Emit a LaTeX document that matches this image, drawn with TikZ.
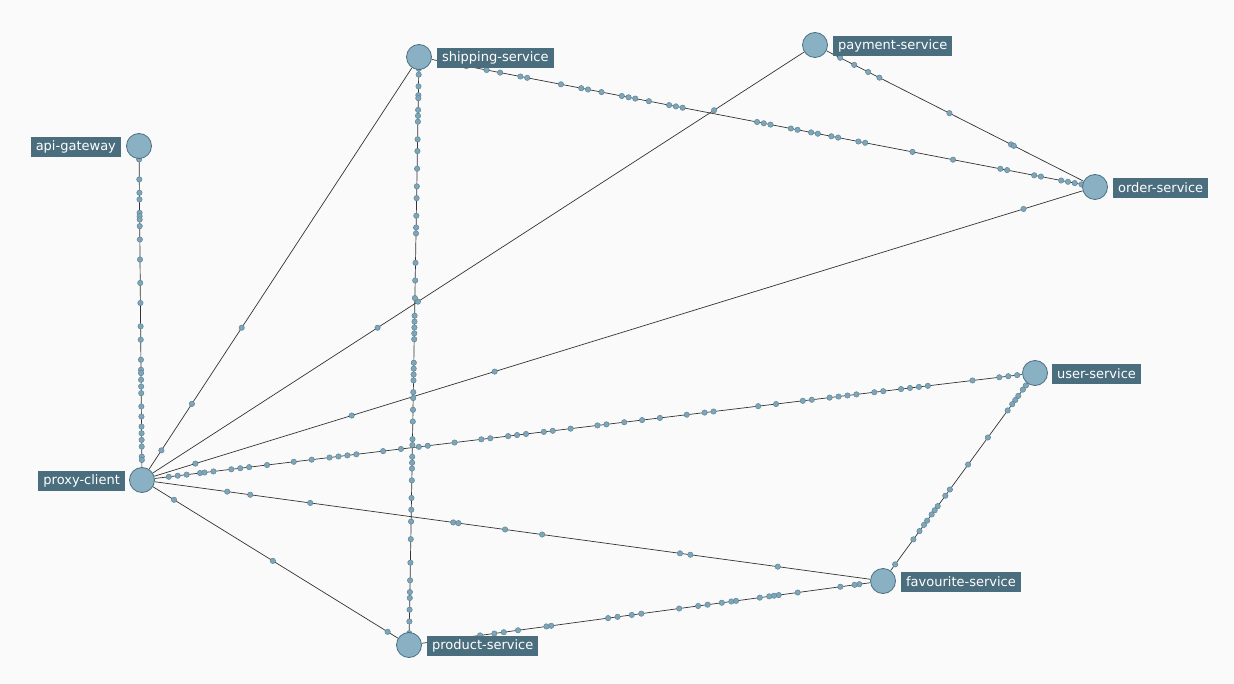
\documentclass[tikz,border=0pt]{standalone}
\usepackage{fontspec}
\setmainfont{DejaVu Sans}
\usepackage{tikz}
\usetikzlibrary{positioning,calc}

\definecolor{bgcol}{HTML}{FAFAFA}
\definecolor{svcfill}{HTML}{89B1C3}
\definecolor{svcdraw}{HTML}{4A6F80}
\definecolor{lblfill}{HTML}{4B6E7E}
\definecolor{dotfill}{HTML}{7EA6B8}
\definecolor{dotdraw}{HTML}{5E8596}
\definecolor{linkcol}{HTML}{333333}

\pgfdeclarelayer{canvas}
\pgfdeclarelayer{back}
\pgfsetlayers{canvas,back,main}

\begin{document}
\begin{tikzpicture}[x=1pt,y=-1pt,
  svc/.style={circle,draw=svcdraw,fill=svcfill,line width=0.8pt,minimum size=25pt,inner sep=0pt},
  lbl/.style={fill=lblfill,text=white,font=\fontsize{13}{15}\selectfont,inner xsep=5pt,inner ysep=0pt,minimum height=20pt},
  link/.style={draw=linkcol,line width=0.7pt},
  pdot/.style={fill=dotfill,draw=dotdraw,line width=0.5pt}]
  \begin{pgfonlayer}{canvas}
  \fill[bgcol] (0,0) rectangle (1234,684);
  \end{pgfonlayer}
  \useasboundingbox (0,0) rectangle (1234,684);
  % services
  \node[svc] (ag) at (139,146) {};
  \node[svc] (pc) at (142,480) {};
  \node[svc] (ship) at (419,57) {};
  \node[svc] (pay) at (815,45) {};
  \node[svc] (ord) at (1095,187) {};
  \node[svc] (usr) at (1035,373) {};
  \node[svc] (fav) at (883,581) {};
  \node[svc] (prod) at (409,645) {};
  % labels
  \node[lbl,left=5pt of ag,yshift=-1pt] (ag-l) {api-gateway};
  \node[lbl,left=4pt of pc,yshift=-1pt] (pc-l) {proxy-client};
  \node[lbl,right=5pt of ship,yshift=-1pt] (ship-l) {shipping-service};
  \node[lbl,right=5pt of pay,yshift=-1pt] (pay-l) {payment-service};
  \node[lbl,right=5pt of ord,yshift=-1pt] (ord-l) {order-service};
  \node[lbl,right=4pt of usr,yshift=-1pt] (usr-l) {user-service};
  \node[lbl,right=5pt of fav,yshift=-1pt] (fav-l) {favourite-service};
  \node[lbl,right=5pt of prod,yshift=-1pt] (prod-l) {product-service};
  \begin{pgfonlayer}{back}
  % links
  \draw[link] (ag) -- (pc);
  \draw[link] (pc) -- (ship);
  \draw[link] (pc) -- (pay);
  \draw[link] (pc) -- (ord);
  \draw[link] (pc) -- (usr);
  \draw[link] (pc) -- (fav);
  \draw[link] (pc) -- (prod);
  \draw[link] (ship) -- (prod);
  \draw[link] (ship) -- (ord);
  \draw[link] (pay) -- (ord);
  \draw[link] (usr) -- (fav);
  \draw[link] (fav) -- (prod);
  % requests in flight
  \foreach \p in {0.04,0.1,0.14,0.16,0.2,0.21,0.22,0.24,0.28,0.34,0.41,0.47,0.54,0.58,0.64,0.67,0.68,0.7,0.72,0.74,0.78,0.81,0.84,0.86,0.88,0.9,0.93,0.94}
    \filldraw[pdot] ($(ag)!\p!(pc)$) circle (2.7pt);
  \foreach \p in {0.07,0.18,0.36}
    \filldraw[pdot] ($(pc)!\p!(ship)$) circle (2.7pt);
  \foreach \p in {0.35,0.41,0.85}
    \filldraw[pdot] ($(pc)!\p!(pay)$) circle (2.7pt);
  \foreach \p in {0.056,0.22,0.37,0.925}
    \filldraw[pdot] ($(pc)!\p!(ord)$) circle (2.7pt);
  \foreach \p in {0.03,0.04,0.05,0.065,0.07,0.08,0.1,0.11,0.12,0.14,0.17,0.19,0.21,0.22,0.23,0.24,0.27,0.29,0.31,0.32,0.35,0.38,0.39,0.41,0.42,0.43,0.45,0.46,0.48,0.51,0.52,0.54,0.56,0.58,0.61,0.63,0.64,0.69,0.71,0.74,0.75,0.77,0.78,0.79,0.8,0.82,0.83,0.85,0.86,0.87,0.88,0.93,0.96,0.97,0.98}
    \filldraw[pdot] ($(pc)!\p!(usr)$) circle (2.7pt);
  \foreach \p in {0.115,0.146,0.227,0.42,0.427,0.49,0.54,0.726,0.74,0.858}
    \filldraw[pdot] ($(pc)!\p!(fav)$) circle (2.7pt);
  \foreach \p in {0.12,0.49,0.92}
    \filldraw[pdot] ($(pc)!\p!(prod)$) circle (2.7pt);
  \foreach \p in {0.02,0.03,0.05,0.065,0.07,0.09,0.1,0.11,0.14,0.16,0.19,0.22,0.24,0.27,0.29,0.3,0.35,0.38,0.41,0.44,0.45,0.46,0.47,0.48,0.52,0.53,0.54,0.55,0.57,0.58,0.6,0.62,0.65,0.66,0.68,0.69,0.7,0.72,0.75,0.77,0.79,0.82,0.86,0.89,0.91,0.92,0.94,0.96,0.98}
    \filldraw[pdot] ($(ship)!\p!(prod)$) circle (2.7pt);
  \foreach \p in {0.07,0.1,0.12,0.15,0.16,0.21,0.24,0.25,0.27,0.3,0.31,0.32,0.34,0.37,0.38,0.39,0.5,0.51,0.52,0.55,0.56,0.58,0.59,0.61,0.62,0.65,0.66,0.73,0.79,0.86,0.87,0.91,0.92,0.95,0.96,0.97,0.98}
    \filldraw[pdot] ($(ship)!\p!(ord)$) circle (2.7pt);
  \foreach \p in {0.09,0.14,0.19,0.23,0.48,0.7,0.71}
    \filldraw[pdot] ($(pay)!\p!(ord)$) circle (2.7pt);
  \foreach \p in {0.03,0.06,0.08,0.11,0.13,0.15,0.18,0.31,0.44,0.56,0.59,0.64,0.66,0.68,0.71,0.73,0.76,0.8,0.92}
    \filldraw[pdot] ($(usr)!\p!(fav)$) circle (2.7pt);
  \foreach \p in {0.05,0.06,0.09,0.18,0.22,0.23,0.24,0.26,0.31,0.32,0.34,0.37,0.39,0.43,0.51,0.53,0.56,0.58,0.7,0.71,0.77,0.8,0.82,0.85}
    \filldraw[pdot] ($(fav)!\p!(prod)$) circle (2.7pt);
  \end{pgfonlayer}
\end{tikzpicture}
\end{document}
